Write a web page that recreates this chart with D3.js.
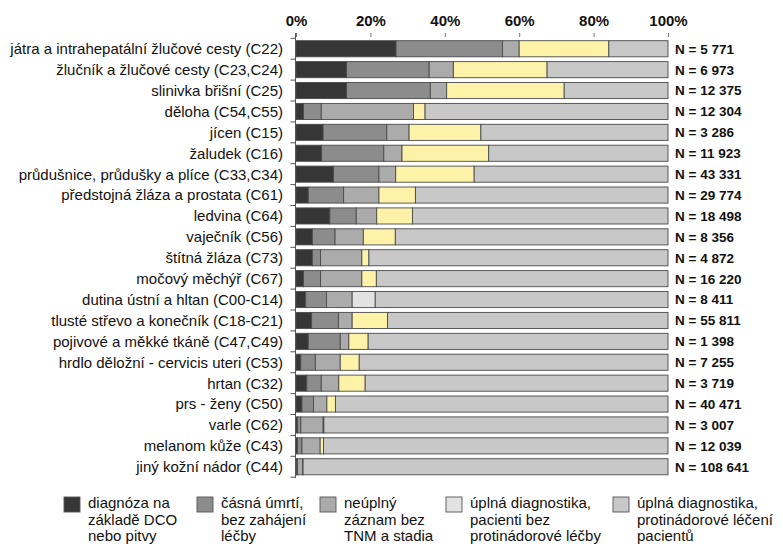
<!DOCTYPE html>
<html>
<head>
<meta charset="utf-8">
<script src="https://cdn.jsdelivr.net/npm/d3@7"></script>
<style>
  body { margin: 0; background: #fff; }
  text { font-family: "Liberation Sans", Arial, sans-serif; fill: #111; }
</style>
</head>
<body>
<div id="chart"></div>
<script>
const width = 783;
const height = 550;

// kategorie (řádky grafu)
const categories = [
    "játra a intrahepatální žlučové cesty (C22)",
    "žlučník a žlučové cesty (C23,C24)",
    "slinivka břišní (C25)",
    "děloha (C54,C55)",
    "jícen (C15)",
    "žaludek (C16)",
    "průdušnice, průdušky a plíce (C33,C34)",
    "předstojná žláza a prostata (C61)",
    "ledvina (C64)",
    "vaječník (C56)",
    "štítná žláza (C73)",
    "močový měchýř (C67)",
    "dutina ústní a hltan (C00-C14)",
    "tlusté střevo a konečník (C18-C21)",
    "pojivové a měkké tkáně (C47,C49)",
    "hrdlo děložní - cervicis uteri (C53)",
    "hrtan (C32)",
    "prs - ženy (C50)",
    "varle (C62)",
    "melanom kůže (C43)",
    "jiný kožní nádor (C44)"
];
const nLabels = ["5 771", "6 973", "12 375", "12 304", "3 286", "11 923", "43 331", "29 774",
    "18 498", "8 356", "4 872", "16 220", "8 411", "55 811", "1 398", "7 255", "3 719",
    "40 471", "3 007", "12 039", "108 641"];

// podíly v %
const dco = [26.9, 13.6, 13.6, 2.0, 7.3, 6.9, 10.1, 3.3, 9.1, 4.4, 4.4, 2.0, 2.6, 4.2, 3.3, 1.3, 2.9, 1.6, 0.4, 0.4, 0.2];
const earlyDeath = [28.6, 22.2, 22.5, 4.8, 17.1, 16.7, 12.2, 9.5, 7.1, 6.1, 2.2, 4.6, 5.6, 7.2, 8.6, 3.9, 3.9, 3.1, 0.9, 1.2, 0.2];
const incomplete = [4.5, 6.5, 4.4, 24.8, 6.0, 4.9, 4.5, 9.5, 5.5, 7.6, 11.1, 11.1, 6.9, 3.7, 2.3, 6.7, 4.7, 3.6, 6.0, 4.9, 1.4];
const noTreatment = [24.1, 25.2, 31.6, 3.1, 19.3, 23.3, 21.1, 9.8, 9.6, 8.6, 1.9, 3.9, 6.2, 9.5, 5.2, 5.1, 7.1, 2.3, 0.2, 0.9, 0.1];
const treated = [15.9, 32.5, 27.9, 65.3, 50.3, 48.2, 52.1, 67.9, 68.7, 73.3, 80.4, 78.4, 78.7, 75.4, 80.6, 83.0, 81.4, 89.4, 92.5, 92.6, 98.1];

const xTicks = [0, 20, 40, 60, 80, 100];

const seriesKeys = ["dco", "early", "incomplete", "noTreat", "treated"];
const legendLabels = [
    ["diagnóza na", "základě DCO", "nebo pitvy"],
    ["čásná úmrtí,", "bez zahájení", "léčby"],
    ["neúplný", "záznam bez", "TNM a stadia"],
    ["úplná diagnostika,", "pacienti bez", "protinádorové léčby"],
    ["úplná diagnostika,", "protinádorové léčení", "pacientů"]
];
const colors = ["#363636", "#8c8c8c", "#ababab", "#e2e2e2", "#c8c8c8"];
const highlightColor = "#fdf2a8";
// řádek, kde 4. segment není zvýrazněn žlutě
const notHighlighted = ["dutina ústní a hltan (C00-C14)"];

const table = categories.map((c, i) => ({
    cat: c, dco: dco[i], early: earlyDeath[i], incomplete: incomplete[i],
    noTreat: noTreatment[i], treated: treated[i]
}));

const svg = d3.select("#chart").append("svg")
    .attr("width", width).attr("height", height);

const x = d3.scaleLinear().domain([0, 100]).range([296, 668]);
const y = d3.scaleBand().domain(categories).range([38.3, 477.2])
    .paddingInner(0.23).paddingOuter(0.115);

const stacked = d3.stack().keys(seriesKeys)(table);

// pruhy
stacked.forEach((layer, k) => {
    svg.append("g").selectAll("rect")
        .data(layer)
        .join("rect")
        .attr("x", d => x(d[0]))
        .attr("y", d => y(d.data.cat))
        .attr("width", d => Math.max(0, x(d[1]) - x(d[0])))
        .attr("height", y.bandwidth())
        .attr("fill", d => (k === 3 && !notHighlighted.includes(d.data.cat)) ? highlightColor : colors[k])
        .attr("stroke", "#4a4a4a")
        .attr("stroke-width", 0.9);
});

// horní osa
const xAxis = svg.append("g").attr("transform", "translate(0,37)")
    .call(d3.axisTop(x).tickValues(xTicks).tickSize(4).tickFormat(d => d + "%"));
xAxis.select(".domain").remove();
xAxis.selectAll("line").attr("stroke", "#777");
xAxis.selectAll("text").attr("y", -11).style("font-size", "15px").style("font-weight", "bold")
    .style("font-family", "'Liberation Sans', Arial, sans-serif");

// levá osa
const yAxis = svg.append("g").attr("transform", "translate(295.5,0)");
yAxis.append("line").attr("x1", 0).attr("x2", 0).attr("y1", 33).attr("y2", 478)
    .attr("stroke", "#555");
d3.range(categories.length + 1).forEach(k => {
    const yy = 38.3 + k * y.step();
    yAxis.append("line").attr("x1", -5).attr("x2", 0).attr("y1", yy).attr("y2", yy)
        .attr("stroke", "#555");
});

// popisky řádků
svg.append("g").selectAll("text")
    .data(categories)
    .join("text")
    .attr("x", 283)
    .attr("y", d => y(d) + y.bandwidth() / 2)
    .attr("dy", "0.36em")
    .attr("text-anchor", "end")
    .style("font-size", "15px")
    .text(d => d);

// N = ...
svg.append("g").selectAll("text")
    .data(categories)
    .join("text")
    .attr("x", 675)
    .attr("y", d => y(d) + y.bandwidth() / 2)
    .attr("dy", "0.36em")
    .style("font-size", "13.5px")
    .style("font-weight", "bold")
    .text((d, i) => "N = " + nLabels[i]);

// legenda
const legendX = [64, 197, 320, 446, 613];
legendLabels.forEach((lines, k) => {
    const g = svg.append("g").attr("transform", `translate(${legendX[k]},497)`);
    g.append("rect").attr("width", 16).attr("height", 15)
        .attr("fill", colors[k]).attr("stroke", "#555").attr("stroke-width", 0.9);
    lines.forEach((l, j) => {
        g.append("text").attr("x", 24).attr("y", 11 + j * 16.7)
            .style("font-size", "15px").text(l);
    });
});
</script>
</body>
</html>
